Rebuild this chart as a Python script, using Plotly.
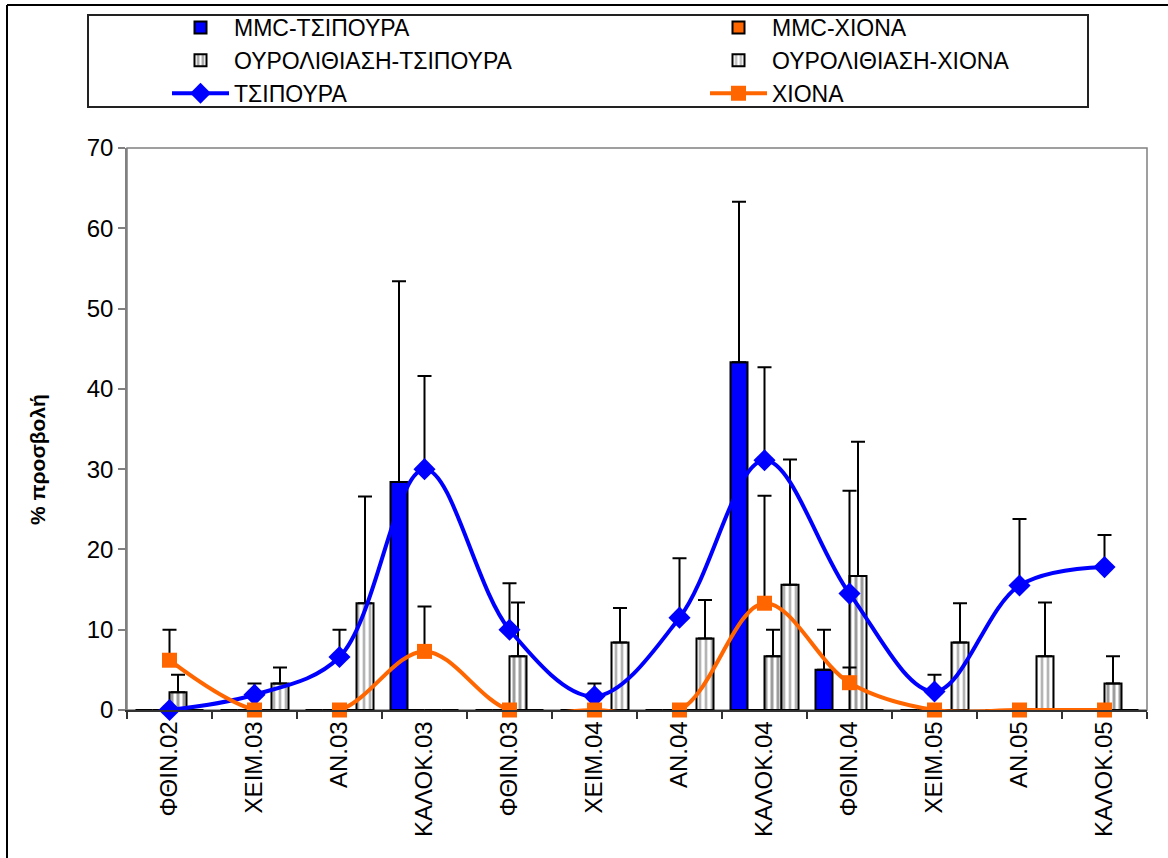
import plotly.graph_objects as go

# Seasons (categories on the x axis)
seasons = ["ΦΘΙΝ.02", "ΧΕΙΜ.03", "ΑΝ.03", "ΚΑΛΟΚ.03", "ΦΘΙΝ.03", "ΧΕΙΜ.04",
           "ΑΝ.04", "ΚΑΛΟΚ.04", "ΦΘΙΝ.04", "ΧΕΙΜ.05", "ΑΝ.05", "ΚΑΛΟΚ.05"]

# MMC infection (bars) and their upper error
mmc_tsipoura = [0, 0, 0, 28.4, 0, 0, 0, 43.3, 5.0, 0, 0, 0]
mmc_tsipoura_err = [None, None, None, 25.0, None, None, None, 20.0, 5.0, None, None, None]
mmc_xiona = [0, 0, 0, 0, 0, 0, 0, 0, 0, 0, 0, 0]
mmc_xiona_err = [None] * 12

# Urolithiasis (striped bars) and their upper error
our_tsipoura = [2.2, 0, 0, 0, 6.7, 0, 0, 6.7, 16.7, 0, 0, 3.3]
our_tsipoura_err = [2.2, None, None, None, 6.7, None, None, 3.3, 16.7, None, None, 3.4]
our_xiona = [0, 3.3, 13.3, 0, 0, 8.4, 8.9, 15.6, 0, 8.4, 6.7, 0]
our_xiona_err = [None, 2.0, 13.3, None, None, 4.3, 4.8, 15.6, None, 4.9, 6.7, None]

# Total infection per species (smoothed lines) and their upper error
tsipoura = [0, 1.9, 6.6, 30.0, 10.0, 1.7, 11.5, 31.1, 14.5, 2.3, 15.5, 17.8]
tsipoura_err = [None, 1.4, 3.4, 11.6, 5.8, 1.6, 7.4, 11.6, 12.8, 2.1, 8.3, 4.0]
xiona = [6.2, 0, 0, 7.3, 0, 0, 0, 13.3, 3.4, 0, 0, 0]
xiona_err = [3.8, None, None, 5.6, None, None, None, 13.4, 1.9, None, None, None]

FONT = "Liberation Sans, Arial, sans-serif"
W, H = 1168, 858
L, R, T, B = 127, 1147, 148, 710


def px_x(x):
    return (x - L) / (R - L)


def px_y(y):
    return (B - y) / (B - T)


def err(vals):
    return dict(type="data", symmetric=False, array=vals, arrayminus=[0] * len(vals),
                color="black", thickness=2, width=7, visible=True)


stripes_dark = dict(shape="|", fgcolor="#3c3c3c", bgcolor="white", size=6, solidity=0.5)
stripes_light = dict(shape="|", fgcolor="#6a6a6a", bgcolor="white", size=6, solidity=0.45)

fig = go.Figure()

fig.add_trace(go.Bar(
    name="ΜΜC-ΤΣΙΠΟΥΡΑ", x=seasons, y=mmc_tsipoura, legend="legend",
    marker=dict(color="#0000FF", line=dict(color="black", width=2)),
    error_y=err(mmc_tsipoura_err)))
fig.add_trace(go.Bar(
    name="ΜΜC-ΧΙΟΝΑ", x=seasons, y=mmc_xiona, legend="legend2",
    marker=dict(color="#FF6600", line=dict(color="black", width=2)),
    error_y=err(mmc_xiona_err)))
fig.add_trace(go.Bar(
    name="ΟΥΡΟΛΙΘΙΑΣΗ-ΤΣΙΠΟΥΡΑ", x=seasons, y=our_tsipoura, legend="legend",
    marker=dict(color="white", line=dict(color="black", width=2), pattern=stripes_dark),
    error_y=err(our_tsipoura_err)))
fig.add_trace(go.Bar(
    name="ΟΥΡΟΛΙΘΙΑΣΗ-ΧΙΟΝΑ", x=seasons, y=our_xiona, legend="legend2",
    marker=dict(color="white", line=dict(color="black", width=2), pattern=stripes_light),
    error_y=err(our_xiona_err)))
fig.add_trace(go.Scatter(
    name="ΤΣΙΠΟΥΡΑ", x=seasons, y=tsipoura, mode="lines+markers", legend="legend",
    line=dict(color="#0000FF", width=4, shape="spline", smoothing=1),
    marker=dict(symbol="diamond", size=17, color="#0000FF"),
    cliponaxis=False, error_y=err(tsipoura_err)))
fig.add_trace(go.Scatter(
    name="ΧΙΟΝΑ", x=seasons, y=xiona, mode="lines+markers", legend="legend2",
    line=dict(color="#FF6600", width=4, shape="spline", smoothing=1),
    marker=dict(symbol="square", size=15, color="#FF6600"),
    cliponaxis=False, error_y=err(xiona_err)))

shapes = [
    # plot area frame
    dict(type="rect", xref="paper", yref="paper", x0=0, y0=0, x1=1, y1=1,
         line=dict(color="#808080", width=1.5), layer="below"),
    # legend frame
    dict(type="rect", xref="paper", yref="paper",
         x0=px_x(88), x1=px_x(1088), y0=px_y(107), y1=px_y(15),
         line=dict(color="#222222", width=2), layer="below"),
    # chart area frame (left and top edges)
    dict(type="line", xref="paper", yref="paper",
         x0=px_x(7), x1=px_x(7), y0=px_y(5), y1=px_y(870),
         line=dict(color="black", width=2)),
    dict(type="line", xref="paper", yref="paper",
         x0=px_x(7), x1=px_x(1180), y0=px_y(5), y1=px_y(5),
         line=dict(color="black", width=2)),
]

legend_common = dict(orientation="v", xanchor="left", yanchor="top", itemwidth=57,
                     font=dict(family=FONT, size=23, color="black"),
                     bgcolor="rgba(0,0,0,0)", borderwidth=0,
                     traceorder="normal", tracegroupgap=0)

fig.update_layout(
    width=W, height=H,
    margin=dict(l=L, r=W - R, t=T, b=H - B, pad=0, autoexpand=False),
    paper_bgcolor="white", plot_bgcolor="white",
    barmode="group", bargap=0.2, bargroupgap=0,
    font=dict(family=FONT, color="black", size=24),
    showlegend=True,
    legend=dict(x=px_x(167), y=px_y(6), **legend_common),
    legend2=dict(x=px_x(705), y=px_y(6), **legend_common),
    shapes=shapes,
    annotations=[dict(text="<b>% προσβολή</b>", xref="paper", yref="paper",
                      x=px_x(37), y=px_y(460), xanchor="center", yanchor="middle",
                      textangle=-90, showarrow=False,
                      font=dict(family=FONT, size=21, color="black"))],
)

fig.update_xaxes(
    type="category", range=[-0.5, len(seasons) - 0.5], tickangle=-90,
    tickson="boundaries",
    ticks="outside", ticklen=7, tickwidth=1.5, tickcolor="#333333",
    showline=True, linecolor="#333333", linewidth=1.5,
    showgrid=False, zeroline=False,
    tickfont=dict(family=FONT, size=24, color="black"),
)
fig.update_yaxes(
    range=[0, 70], dtick=10, tick0=0,
    ticks="outside", ticklen=7, tickwidth=1.5, tickcolor="#808080",
    showline=True, linecolor="#808080", linewidth=1.5,
    showgrid=False, zeroline=False,
    tickfont=dict(family=FONT, size=24, color="black"),
)

fig.write_html("out.html")
